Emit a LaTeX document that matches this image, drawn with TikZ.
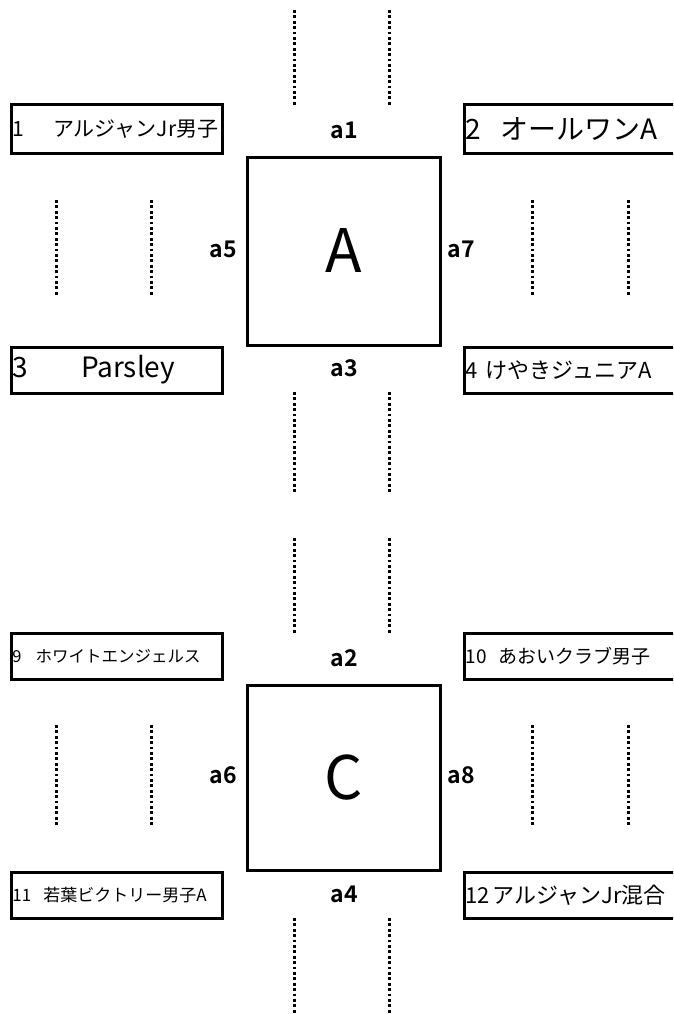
\documentclass[tikz,border=0pt]{standalone}
\usepackage{fontspec}
\setmainfont{Noto Sans CJK JP}[BoldFont={Noto Sans CJK JP Bold}]
\usetikzlibrary{positioning}
\newcommand{\fs}[1]{\fontsize{#1}{#1}\selectfont}
\newcommand{\teamtext}[1]{\makebox[208pt][l]{#1}}

\begin{document}
\begin{tikzpicture}[x=1pt,y=-1pt,
  court/.style={draw,line width=3pt,minimum width=193pt,minimum height=188pt,inner sep=0pt,font=\fs{60}},
  team/.style={draw,line width=3pt,minimum height=46pt,inner xsep=1.5pt,inner ysep=0pt},
  lane/.style={line width=3pt,dash pattern=on 2.8pt off 2.6pt},
  tag/.style={font=\bfseries\fs{23}}]
\useasboundingbox (0,0) rectangle (673,1014);
\clip (0,0) rectangle (673,1014);
% courts
\node[court] (A) at (343.5,251) {A};
\node[court,minimum height=185pt] (C) at (343.5,777.5) {C};
% court labels
\node[tag] (a1) at (344,130) {a1};
\node[tag] (a3) at (344,368) {a3};
\node[tag] (a5) at (223,249) {a5};
\node[tag] (a7) at (461,249) {a7};
\node[tag] (a2) at (344,658) {a2};
\node[tag] (a4) at (344,894) {a4};
\node[tag] (a6) at (223,775) {a6};
\node[tag] (a8) at (461,775) {a8};
% teams
\node[team,minimum height=48pt] (t1) at (116.5,129) {\teamtext{\fs{21}1\hspace{29pt}アルジャンJr男子}};
\node[team,minimum height=48pt] (t2) at (569.5,129) {\teamtext{\fs{28}2\hspace{19pt}オールワンA}};
\node[team] (t3) at (116.5,370) {\teamtext{\fs{28}3\hspace{53pt}Parsley}};
\node[team] (t4) at (569.5,370) {\teamtext{\fs{22}4\hspace{8pt}けやきジュニアA}};
\node[team] (t9) at (116.5,656) {\teamtext{\fs{16.5}9\hspace{14pt}ホワイトエンジェルス}};
\node[team] (t10) at (569.5,656) {\teamtext{\fs{19}10\hspace{12pt}あおいクラブ男子}};
\node[team] (t11) at (116.5,895) {\teamtext{\fs{17}11\hspace{12pt}若葉ビクトリー男子A}};
\node[team] (t12) at (569.5,895) {\teamtext{\fs{22}12\hspace{3pt}アルジャンJr混合}};
% lanes
\foreach \x in {294,389}
  \foreach \ya/\yb in {10/107,392/492,538/635,918/1014}
    \draw[lane] (\x,\ya) -- (\x,\yb);
\foreach \x in {56,151,532,628}
  \foreach \ya/\yb in {200/297,725/827}
    \draw[lane] (\x,\ya) -- (\x,\yb);
\end{tikzpicture}
\end{document}
